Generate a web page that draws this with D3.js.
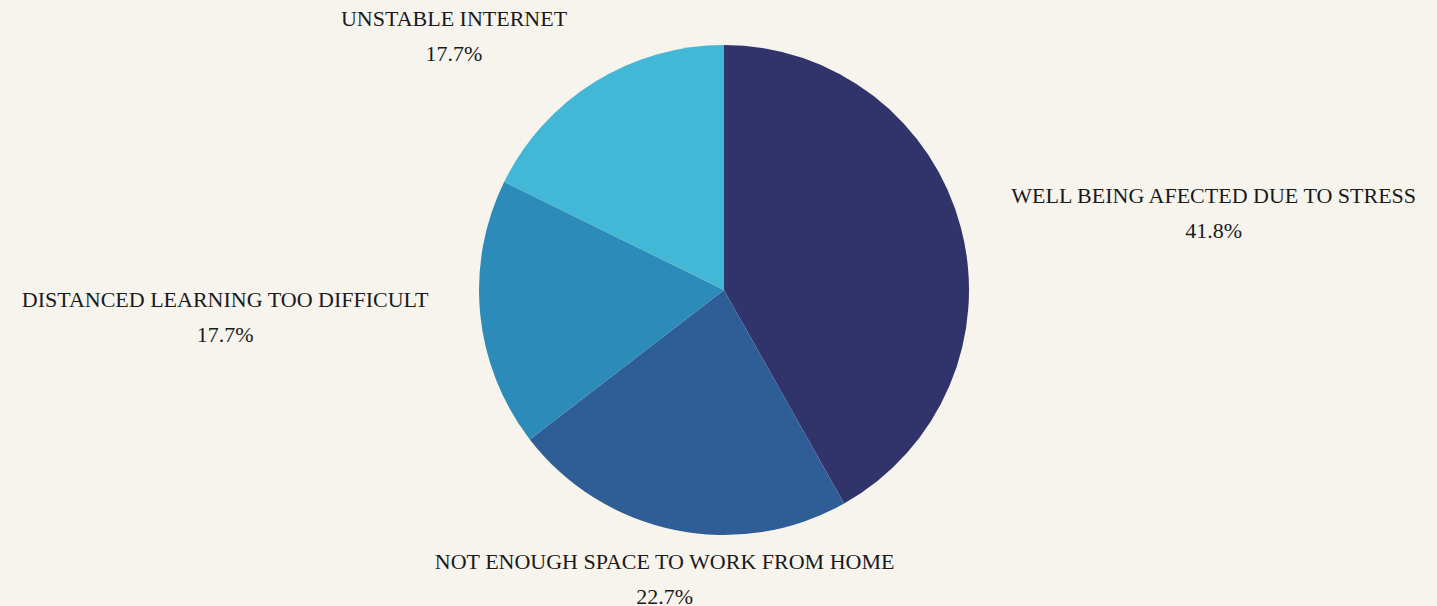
<!DOCTYPE html>
<html><head><meta charset="utf-8">
<script src="https://cdn.jsdelivr.net/npm/d3@7"></script>
<style>html,body{margin:0;padding:0;background:#f7f4ee;}svg{display:block;}</style>
</head><body>
<svg id="chart" width="1437" height="606"></svg>
<script>
const categories = ["WELL BEING AFECTED DUE TO STRESS","NOT ENOUGH SPACE TO WORK FROM HOME","DISTANCED LEARNING TOO DIFFICULT","UNSTABLE INTERNET"];
const values = [41.8, 22.7, 17.7, 17.7];
const colors = ["#31346a","#2f5e96","#2d8bba","#42b7d6"];

const W = 1437, H = 606, cx = 724, cy = 290, r = 245, labelR = 297;
const svg = d3.select("#chart");
svg.append("rect").attr("width",W).attr("height",H).attr("fill","#f7f4ee");
const g = svg.append("g").attr("transform",`translate(${cx},${cy})`);
const data = categories.map((c,i)=>({label:c,value:values[i],color:colors[i]}));
const pie = d3.pie().value(d=>d.value).sort(null);
const arc = d3.arc().innerRadius(0).outerRadius(r);
const arcs = pie(data);
g.selectAll("path").data(arcs).enter().append("path").attr("d",arc).attr("fill",d=>d.data.color);

arcs.forEach(a=>{
  const mid=(a.startAngle+a.endAngle)/2;
  const px=labelR*Math.sin(mid), py=-labelR*Math.cos(mid);
  const t=g.append("text").attr("font-family","'Liberation Serif', serif").attr("font-size",22).attr("fill","#1a1a1a").attr("text-anchor","middle");
  const l1=t.append("tspan").text(a.data.label);
  const l2=t.append("tspan").text(a.data.value.toFixed(1)+"%");
  const w=Math.max(l1.node().getComputedTextLength(),l2.node().getComputedTextLength());
  let x;
  const s=Math.sin(mid);
  if (Math.abs(s)<0.4) x=px; else if (s>0) x=px+w/2; else x=px-w/2;
  l1.attr("x",x).attr("y",py-12);
  l2.attr("x",x).attr("y",py+23);
});
</script>
</body></html>
